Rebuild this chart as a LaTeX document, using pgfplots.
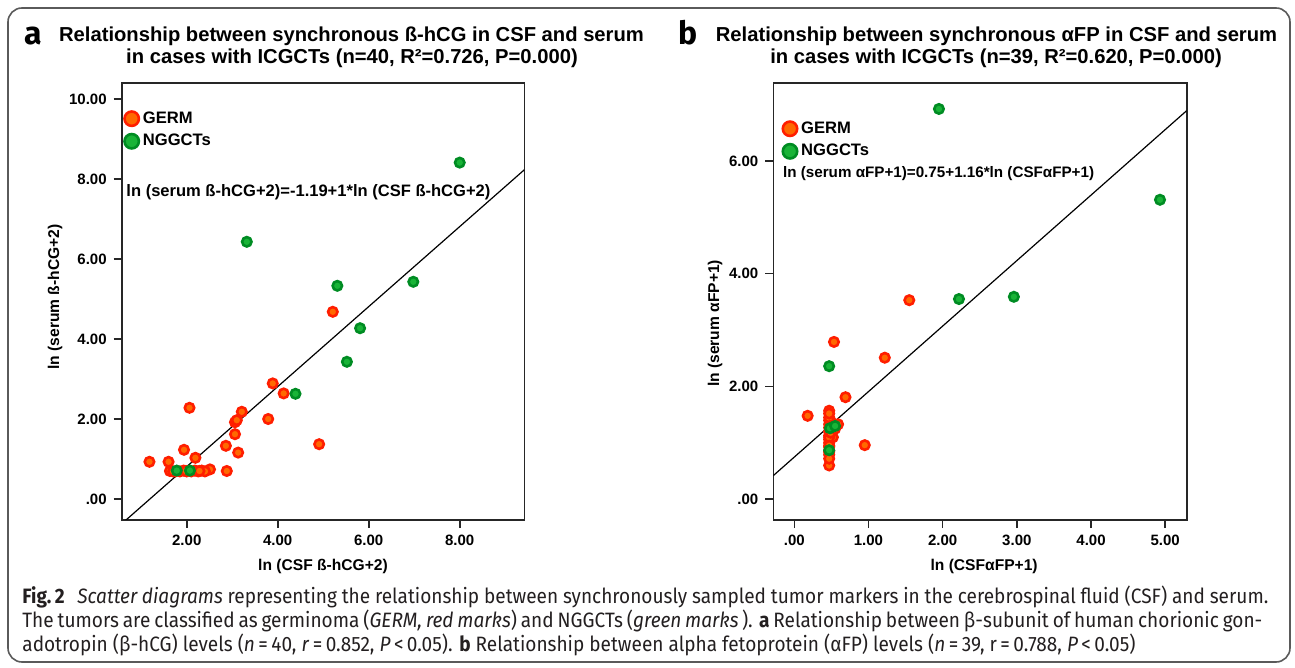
\documentclass[border=0pt]{standalone}
\usepackage{fontspec}
\setmainfont{Liberation Sans}
\newfontfamily\capfont[FakeStretch=0.915]{Fira Sans}
\newfontfamily\labfont{Fira Sans}
\usepackage{pgfplots}
\pgfplotsset{compat=1.18}
\definecolor{germedge}{RGB}{255,30,0}
\definecolor{germfill}{RGB}{255,105,0}
\definecolor{ngedge}{RGB}{0,140,35}
\definecolor{ngfill}{RGB}{25,180,55}
\definecolor{framegray}{RGB}{90,90,90}
\definecolor{captext}{RGB}{35,31,32}

\pgfplotsset{
  panel/.style={
    scale only axis,
    axis line style={line width=0.8bp, black!85},
    every tick/.style={line width=0.8bp, black!85},
    tick align=outside,
    major tick length=4bp,
    xtick pos=bottom, ytick pos=left,
    ticklabel style={font=\fontsize{7.5bp}{9bp}\selectfont\bfseries},
    label style={font=\fontsize{7.8bp}{9bp}\selectfont\bfseries},
    legend cell align=left,
    legend style={draw=none, fill=none, inner sep=0pt, row sep=0pt,
      font=\fontsize{8.3bp}{10bp}\selectfont\bfseries},
    legend image code/.code={\draw[mark size=3.6bp, line width=1.3bp] plot coordinates {(0.15cm,0cm)};},
  },
  germ/.style={only marks, mark=*, color=germedge, fill=germfill, mark size=2.35bp, line width=1.3bp},
  nggct/.style={only marks, mark=*, color=ngedge, fill=ngfill, mark size=2.35bp, line width=1.3bp},
}

\begin{document}
\begin{tikzpicture}
\useasboundingbox (0,0) rectangle (647.5bp,334bp);
\draw[framegray, line width=0.8bp, rounded corners=7bp] (4bp,3bp) rectangle (645bp,330bp);

% ---------- panel a ----------
\node[anchor=base, inner sep=0] at (16.5bp,311.5bp) {\labfont\bfseries\fontsize{16bp}{18bp}\selectfont a};
\node[anchor=base, inner sep=0] at (175.75bp,313bp) {\fontsize{10.1bp}{12bp}\selectfont\bfseries Relationship between synchronous ß-hCG in CSF and serum};
\node[anchor=base, inner sep=0] at (176bp,302bp) {\fontsize{10.1bp}{12bp}\selectfont\bfseries in cases with ICGCTs (n=40, R²=0.726, P=0.000)};

\begin{axis}[panel,
  at={(60.85bp,74bp)}, anchor=south west,
  width=201.3bp, height=218.5bp,
  xmin=0.57, xmax=9.42, ymin=-0.525, ymax=10.4,
  xtick={2,4,6,8}, xticklabels={2.00,4.00,6.00,8.00},
  ytick={0,2,4,6,8,10}, yticklabels={.00,2.00,4.00,6.00,8.00,10.00},
  xlabel={ln (CSF ß-hCG+2)}, ylabel={ln (serum ß-hCG+2)},
  xlabel style={at={(axis description cs:0.5,-0.1167)}, anchor=base},
  ylabel style={at={(axis description cs:-0.1657,0.51)}, anchor=center},
  legend style={at={(axis description cs:0.006,0.945)}, anchor=north west},
]
\addplot[germ] coordinates {
(1.18,0.93) (1.60,0.93) (1.63,0.70) (1.75,0.69) (1.93,0.71) (2.00,0.69)
(2.18,0.71) (2.25,0.69) (2.33,0.71) (2.51,0.74) (1.94,1.23) (2.19,1.03)
(2.06,2.28) (2.86,1.33) (2.88,0.70) (3.06,1.62) (3.13,1.16) (3.06,1.92)
(3.10,1.97) (3.21,2.18) (3.79,2.00) (3.89,2.89) (4.13,2.64) (4.91,1.37)
(5.21,4.68) (1.85,0.69) (2.10,0.69) (2.40,0.69) (1.70,0.69) (2.28,0.70)
(1.98,0.70)
};
\addlegendentry{GERM}
\addplot[nggct] coordinates {
(8.00,8.41) (3.32,6.43) (5.31,5.33) (6.98,5.43) (5.81,4.27) (5.52,3.43)
(4.39,2.63) (1.78,0.71) (2.07,0.71)
};
\addlegendentry{NGGCTs}
\addplot[black, line width=0.6bp, forget plot] coordinates {(0.57,-0.62) (9.42,8.23)};
\node[anchor=base west, inner sep=0, font=\fontsize{8.27bp}{10bp}\selectfont\bfseries] at (axis cs:0.666,7.55) {ln (serum ß-hCG+2)=-1.19+1*ln (CSF ß-hCG+2)};
\end{axis}

% ---------- panel b ----------
\node[anchor=base, inner sep=0] at (344bp,311.5bp) {\labfont\bfseries\fontsize{16bp}{18bp}\selectfont b};
\node[anchor=base, inner sep=0] at (498.25bp,313bp) {\fontsize{10.1bp}{12bp}\selectfont\bfseries Relationship between synchronous αFP in CSF and serum};
\node[anchor=base, inner sep=0] at (498bp,302bp) {\fontsize{10.1bp}{12bp}\selectfont\bfseries in cases with ICGCTs (n=39, R²=0.620, P=0.000)};

\begin{axis}[panel,
  at={(386.65bp,74bp)}, anchor=south west,
  width=206.7bp, height=218.5bp,
  xmin=-0.283, xmax=5.29, ymin=-0.367, ymax=7.38,
  xtick={0,1,2,3,4,5}, xticklabels={.00,1.00,2.00,3.00,4.00,5.00},
  ytick={0,2,4,6}, yticklabels={.00,2.00,4.00,6.00},
  xlabel={ln (CSFαFP+1)}, ylabel={ln (serum αFP+1)},
  xlabel style={at={(axis description cs:0.51,-0.1167)}, anchor=base},
  ylabel style={at={(axis description cs:-0.141,0.45)}, anchor=center},
  legend style={at={(axis description cs:0.022,0.922)}, anchor=north west},
]
\addplot[germ] coordinates {
(0.18,1.48) (0.47,1.57) (0.47,1.40) (0.47,1.33) (0.47,1.27) (0.47,1.20)
(0.47,1.13) (0.47,1.06) (0.47,1.00) (0.47,0.93) (0.47,0.86) (0.47,0.79)
(0.47,0.60) (0.50,1.36) (0.50,1.22) (0.52,1.10) (0.59,1.33) (0.535,2.79)
(0.69,1.81) (0.95,0.96) (1.22,2.51) (1.55,3.53) (0.47,1.45) (0.47,1.10)
(0.47,0.95) (0.47,0.84) (0.49,1.18) (0.49,1.30) (0.47,0.72) (0.55,1.25)
(0.47,1.52)
};
\addlegendentry{GERM}
\addplot[nggct] coordinates {
(1.95,6.92) (4.93,5.31) (2.22,3.55) (2.96,3.59) (0.47,2.36) (0.48,1.26)
(0.55,1.30) (0.47,0.87)
};
\addlegendentry{NGGCTs}
\addplot[black, line width=0.6bp, forget plot] coordinates {(-0.283,0.42) (5.29,6.89)};
\node[anchor=base west, inner sep=0, font=\fontsize{7.6bp}{9bp}\selectfont\bfseries] at (axis cs:-0.156,5.71) {ln (serum αFP+1)=0.75+1.16*ln (CSFαFP+1)};
\end{axis}

% ---------- caption ----------
\node[anchor=base west, inner sep=0, text=captext] at (11bp,32.5bp) {\capfont\fontsize{10.4bp}{12bp}\selectfont\makebox[623bp][s]{\textbf{Fig.\,2}\hspace{0.6em}\textit{Scatter diagrams} representing the relationship between synchronously sampled tumor markers in the cerebrospinal fluid (CSF) and serum.}};
\node[anchor=base west, inner sep=0, text=captext] at (11bp,20.3bp) {\capfont\fontsize{10.4bp}{12bp}\selectfont\makebox[620bp][s]{The tumors are classified as germinoma (\textit{GERM, red marks}) and NGGCTs (\textit{green marks}\,). \textbf{a} Relationship between β-subunit of human chorionic gon-}};
\node[anchor=base west, inner sep=0, text=captext] at (11bp,8.1bp) {\capfont\fontsize{10.4bp}{12bp}\selectfont adotropin (β-hCG) levels (\textit{n}\,=\,40, \textit{r}\,=\,0.852, \textit{P}\,<\,0.05). \textbf{b} Relationship between alpha fetoprotein (αFP) levels (\textit{n}\,=\,39, r\,=\,0.788, \textit{P}\,<\,0.05)};
\end{tikzpicture}
\end{document}
